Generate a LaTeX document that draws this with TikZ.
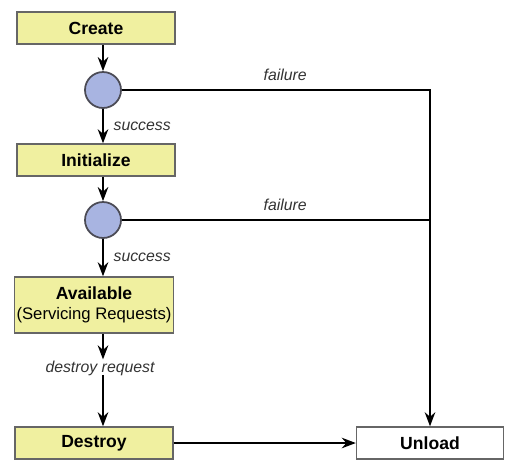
\documentclass[tikz,border=0pt]{standalone}
\usepackage{fontspec}
\setmainfont{Liberation Sans}
\usetikzlibrary{positioning, arrows.meta}
\definecolor{stateyellow}{RGB}{240,240,160}
\definecolor{checkblue}{RGB}{168,180,225}
\definecolor{rimgray}{RGB}{75,75,85}
\tikzset{
    state node/.style={rectangle, draw=gray!80!black, line width=0.8pt, fill=stateyellow, minimum width=3.16cm, minimum height=0.64cm, inner sep=1pt, font=\bfseries, align=center},
    final node/.style={state node, fill=white, minimum width=2.94cm},
    check node/.style={circle, draw=rimgray, line width=1pt, fill=checkblue, minimum size=0.72cm, inner sep=0pt},
    edge label/.style={font=\fontsize{9}{10}\selectfont\itshape, text=black!80, inner sep=1.5pt},
    flow/.style={line width=1.1pt, -{Stealth[length=8pt, width=6pt]}},
}

\begin{document}
\begin{tikzpicture}[x=0.02cm, y=-0.02cm]
    \useasboundingbox (0,0) rectangle (519,471);
    \node[state node] (create) at (96,28) {Create};
    \node[check node] (chk1) at (103,90) {};
    \node[state node] (init) at (96,160) {Initialize};
    \node[check node] (chk2) at (103,220) {};
    \node[state node, minimum height=1.12cm] (avail) at (94,305) {Available\\[-1pt]{\mdseries\fontsize{9.5}{11}\selectfont(Servicing Requests)}};
    \node[edge label] (req) at (100,368) {destroy request};
    \node[state node] (destroy) at (94,443) {Destroy};
    \node[final node] (unload) at (430,443) {Unload};
    \coordinate (join1) at (unload |- chk1);
    \coordinate (join2) at (unload |- chk2);

    \path[flow]
    (create.south -| chk1) edge (chk1)
    (chk1) edge node[edge label, right, xshift=4pt] {success} (init.north -| chk1)
    (init.south -| chk2) edge (chk2)
    (chk2) edge node[edge label, right, xshift=4pt] {success} (avail.north -| chk2)
    (avail.south -| chk2) edge ([yshift=-1pt]req.north -| chk2)
    ([yshift=2pt]req.south -| chk2) edge (destroy.north -| chk2)
    (destroy) edge (unload);
    \draw[flow] (chk1) -- node[edge label, above, pos=0.53, yshift=3pt] {failure} (join1) -- (unload);
    \draw[line width=1.1pt] (chk2) -- node[edge label, above, pos=0.53, yshift=3pt] {failure} (join2);
\end{tikzpicture}
\end{document}
